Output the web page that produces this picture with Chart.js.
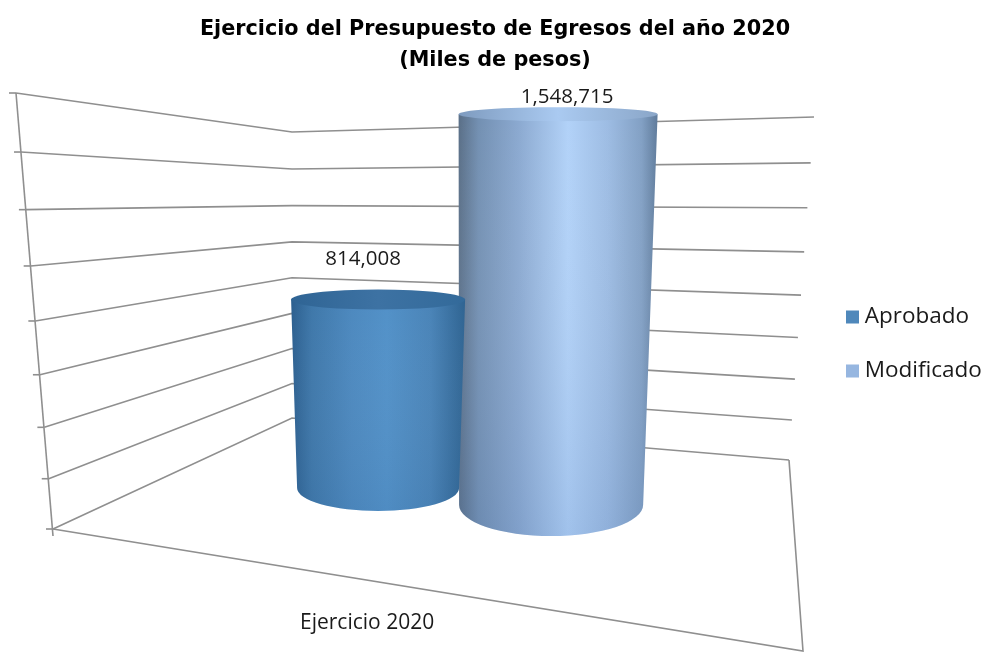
<!DOCTYPE html>
<html>
<head>
<meta charset="utf-8">
<title>Ejercicio del Presupuesto de Egresos del año 2020</title>
<script src="https://cdn.jsdelivr.net/npm/chart.js@4"></script>
<style>
  html, body { margin: 0; padding: 0; background: #fff; }
  #wrap { width: 985px; height: 652px; }
</style>
</head>
<body>
<div id="wrap"><canvas id="chart"></canvas></div>
<script>
const categories = ["Ejercicio 2020"];
const aprobado = [814008];
const modificado = [1548715];
const gridValues = [0, 200000, 400000, 600000, 800000, 1000000, 1200000, 1400000, 1600000];

const textFont = "'Open Sans', sans-serif";
const lineColor = "#8f8f8f";

// corners of the 3D box as [bottom, top], k is the perspective squeeze of that edge
const wallFront = { bottom: [53, 529], top: [16, 93], k: 1.096 };
const wallBack = { bottom: [292, 418], top: [292, 132], k: 1.04 };
const wallRight = { bottom: [789, 460], top: [814, 117], k: 1.08 };
const floorCorner = [803, 651];

// cylinder look, one per dataset
const cylinders = [
  {
    topRx: 87, bottomRx: 81, topRy: 10, bottomRy: 23, baseShift: -17, bottomDx: 0,
    body: [[0, "#2c5f8f"], [0.12, "#3f78aa"], [0.35, "#4d89bf"], [0.55, "#5291c8"], [0.8, "#4a84b8"], [1, "#2f6492"]],
    cap: [[0, "#2f6494"], [0.5, "#3d72a3"], [1, "#336a9a"]],
    shade: "rgba(40,80,130,0.08)",
    labelDx: -15, labelDy: -40
  },
  {
    topRx: 99.5, bottomRx: 92, topRy: 7, bottomRy: 31, baseShift: 0, bottomDx: -7,
    body: [[0, "#5a6f87"], [0.1, "#7390b2"], [0.3, "#8ba9d0"], [0.55, "#b2d2f8"], [0.75, "#9dbce3"], [0.92, "#82a0c4"], [1, "#5f7b9b"]],
    cap: [[0, "#7e9bbf"], [0.5, "#aacaf1"], [1, "#8aa6c8"]],
    shade: "rgba(70,110,170,0.16)",
    labelDx: 9, labelDy: -17
  }
];

function edgePoint(edge, t) {
  const s = t / (t + edge.k * (1 - t));
  return [
    edge.bottom[0] + (edge.top[0] - edge.bottom[0]) * s,
    edge.bottom[1] + (edge.top[1] - edge.bottom[1]) * s
  ];
}

function stroke(ctx, pts) {
  ctx.beginPath();
  pts.forEach((p, i) => (i ? ctx.lineTo(p[0], p[1]) : ctx.moveTo(p[0], p[1])));
  ctx.stroke();
}

function hGradient(ctx, x0, x1, stops) {
  const g = ctx.createLinearGradient(x0, 0, x1, 0);
  stops.forEach(s => g.addColorStop(s[0], s[1]));
  return g;
}

const box3d = {
  id: "box3d",
  afterLayout(chart) {
    // legend and title do not follow the shifted plot area
    const lg = chart.legend;
    const h = lg.bottom - lg.top;
    lg.left = 820;
    lg.right = 985;
    lg.top = 344 - h / 2;
    lg.bottom = lg.top + h;
    chart.titleBlock.left = 5;
    chart.titleBlock.right = 985;
  },
  beforeDatasetsDraw(chart) {
    const ctx = chart.ctx;
    const y = chart.scales.y;
    ctx.save();
    ctx.strokeStyle = lineColor;
    ctx.lineWidth = 1.6;
    gridValues.forEach(v => {
      const t = (v - y.min) / (y.max - y.min);
      const a = edgePoint(wallFront, t);
      const b = edgePoint(wallBack, t);
      const c = edgePoint(wallRight, t);
      stroke(ctx, [a, b, c]);
      stroke(ctx, [[a[0] - 7, a[1]], a]);
    });
    stroke(ctx, [wallFront.top, [wallFront.bottom[0], wallFront.bottom[1] + 7]]);
    stroke(ctx, [wallFront.bottom, floorCorner, wallRight.bottom]);
    ctx.restore();
  },
  beforeDatasetDraw(chart, args) {
    const ctx = chart.ctx;
    const c = cylinders[args.index];
    const el = args.meta.data[0];
    const top = el.y;
    const base = el.base + c.baseShift;
    const bx = el.x + c.bottomDx;
    ctx.save();
    ctx.beginPath();
    ctx.moveTo(el.x - c.topRx, top);
    ctx.lineTo(bx - c.bottomRx, base);
    ctx.ellipse(bx, base, c.bottomRx, c.bottomRy, 0, Math.PI, 0, true);
    ctx.lineTo(el.x + c.topRx, top);
    ctx.closePath();
    ctx.fillStyle = hGradient(ctx, el.x - c.topRx, el.x + c.topRx, c.body);
    ctx.fill();
    // slightly darker towards the foot
    const shade = ctx.createLinearGradient(0, top, 0, base + c.bottomRy);
    shade.addColorStop(0, "rgba(255,255,255,0)");
    shade.addColorStop(1, c.shade);
    ctx.fillStyle = shade;
    ctx.fill();
    ctx.fillStyle = hGradient(ctx, el.x - c.topRx, el.x + c.topRx, c.cap);
    ctx.beginPath();
    ctx.ellipse(el.x, top, c.topRx, c.topRy, 0, 0, Math.PI * 2);
    ctx.fill();
    ctx.restore();
    return false;
  },
  afterDatasetsDraw(chart) {
    const ctx = chart.ctx;
    ctx.save();
    ctx.fillStyle = "#1a1a1a";
    ctx.font = "20.5px " + textFont;
    ctx.textAlign = "center";
    ctx.textBaseline = "middle";
    chart.data.datasets.forEach((ds, i) => {
      const el = chart.getDatasetMeta(i).data[0];
      const c = cylinders[i];
      ctx.fillText(ds.data[0].toLocaleString("en-US"), el.x + c.labelDx, el.y + c.labelDy);
    });
    ctx.restore();
  }
};

new Chart(document.getElementById("chart").getContext("2d"), {
  type: "bar",
  data: {
    labels: categories,
    datasets: [
      { label: "Aprobado", data: aprobado, backgroundColor: "#4f88bb", barThickness: 180 },
      { label: "Modificado", data: modificado, backgroundColor: "#96b6e0", barThickness: 180 }
    ]
  },
  plugins: [box3d],
  options: {
    responsive: true,
    maintainAspectRatio: false,
    animation: false,
    layout: { padding: { left: 123, right: 0, top: 0, bottom: 17 } },
    scales: {
      x: {
        grid: { display: false },
        border: { display: false },
        afterFit(scale) { scale.height = 130; },
        ticks: {
          color: "#1a1a1a",
          font: { family: textFont, size: 21 },
          padding: 97,
          labelOffset: -101,
          maxRotation: 0
        }
      },
      y: { display: false, min: 0, max: 1600000, ticks: { stepSize: 200000 } }
    },
    plugins: {
      tooltip: { enabled: false },
      title: {
        display: true,
        text: ["Ejercicio del Presupuesto de Egresos del año 2020", "(Miles de pesos)"],
        color: "#000",
        font: { family: "'DejaVu Sans', sans-serif", size: 20.75, weight: "bold", lineHeight: 1.5 },
        padding: { top: 14, bottom: 25 }
      },
      legend: {
        position: "right",
        labels: {
          color: "#1a1a1a",
          font: { family: textFont, size: 22.5 },
          usePointStyle: true,
          pointStyle: "rect",
          boxWidth: 2,
          boxHeight: 13,
          padding: 31.5
        }
      }
    }
  }
});
</script>
</body>
</html>
